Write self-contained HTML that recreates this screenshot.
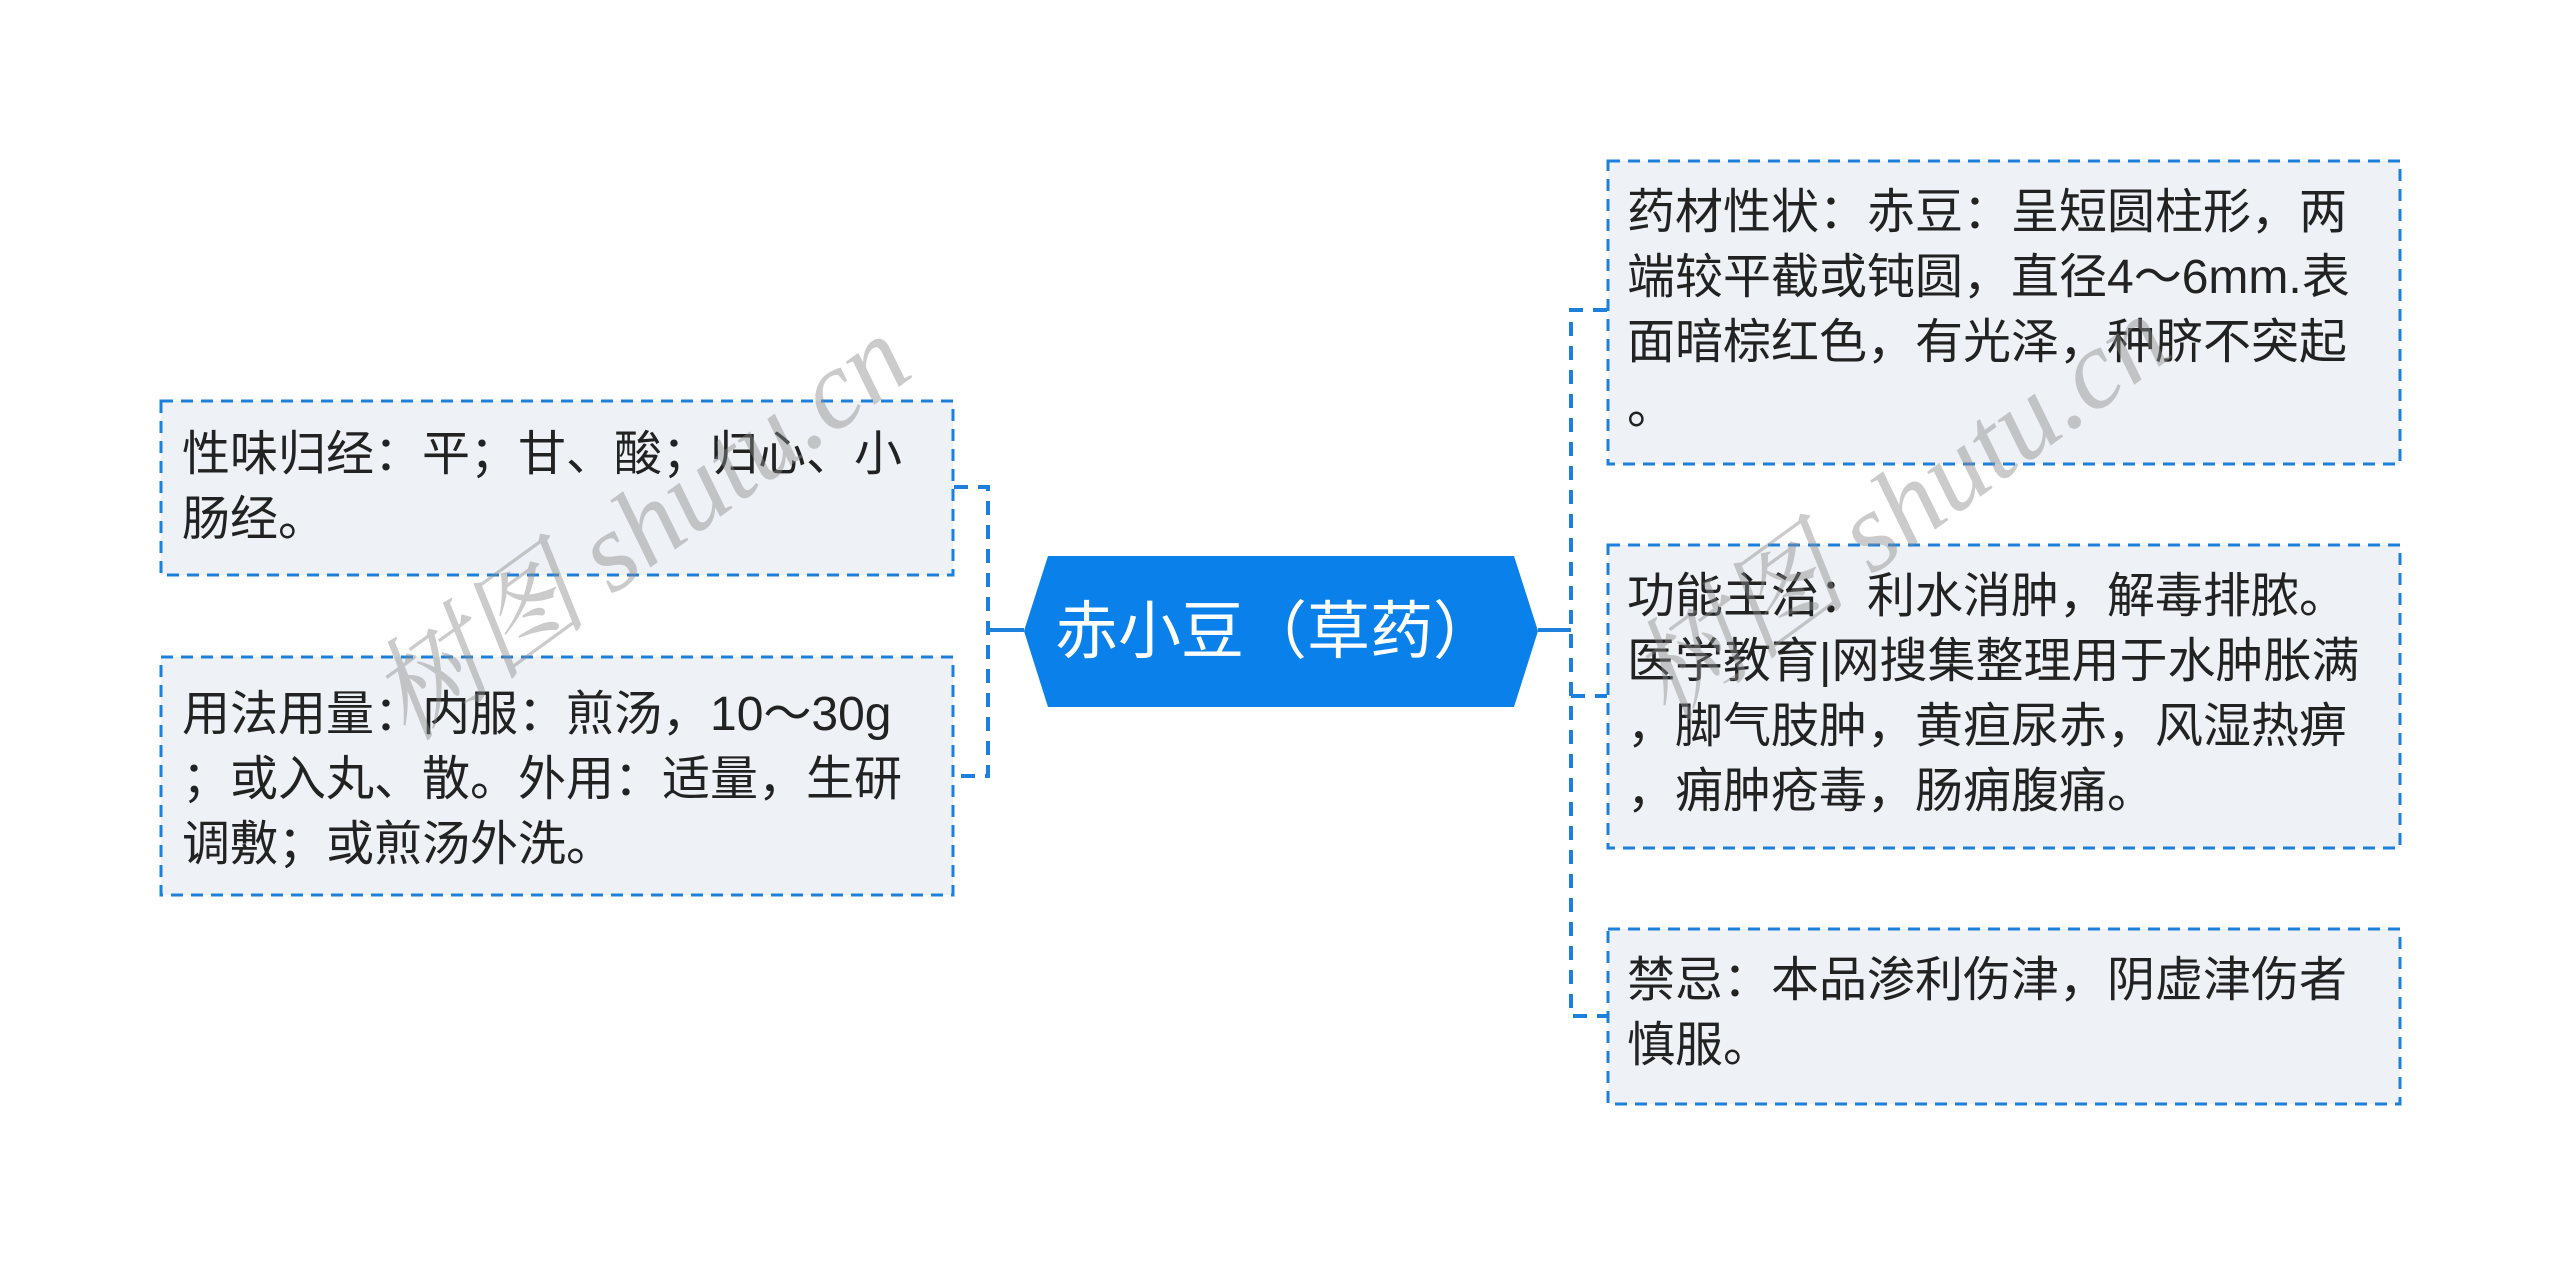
<!DOCTYPE html>
<html><head><meta charset="utf-8"><style>
body{margin:0;width:2560px;height:1264px;background:#fff;position:relative;overflow:hidden;font-family:"Liberation Sans","Noto Sans CJK SC",sans-serif}
.b{position:absolute;box-sizing:border-box;color:#222;font-size:48px;line-height:65px;padding:22px 0 0 23px;white-space:nowrap}
.wm{position:absolute;font-family:"Liberation Serif","Noto Serif CJK SC",serif;font-style:italic;font-size:112px;color:rgba(140,140,140,0.45);transform:rotate(-36deg);white-space:nowrap;transform-origin:center}
</style></head><body>
<svg width="2560" height="1264" style="position:absolute;left:0;top:0">
<g fill="#eef1f5" stroke="#1d80dc" stroke-width="3" stroke-dasharray="12,8">
<rect x="161" y="401" width="792" height="174"/>
<rect x="161" y="657" width="792" height="238"/>
<rect x="1608" y="161" width="792" height="303"/>
<rect x="1608" y="545" width="792" height="303"/>
<rect x="1608" y="929" width="792" height="175"/>
</g>
<g stroke="#1d80dc" stroke-width="4" fill="none" stroke-dasharray="14,10">
<path d="M954 487 H988 V776 H954"/>
<path d="M1607 310 H1571 V1016 H1607"/>
<path d="M1571 696 H1607"/>
</g>
<path d="M988 630 H1024 M1538 630 H1571" stroke="#1d80dc" stroke-width="4"/>
<polygon points="1024,631 1048,556 1514,556 1538,631 1514,707 1048,707" fill="#0a80ea"/>
<text x="1055" y="653" font-size="63" fill="#fff" font-family="Liberation Sans, Noto Sans CJK SC, sans-serif">赤小豆（草药）</text>
</svg>
<div class="b" style="left:160px;top:400px;padding-left:22px">性味归经：平；甘、酸；归心、小<br>肠经。</div>
<div class="b" style="left:160px;top:656px;padding-left:22px;padding-top:26px">用法用量：内服：煎汤，10～30g<br>；或入丸、散。外用：适量，生研<br>调敷；或煎汤外洗。</div>
<div class="b" style="left:1607px;top:160px;padding-left:20px;padding-top:20px">药材性状：赤豆：呈短圆柱形，两<br>端较平截或钝圆，直径4～6mm.表<br>面暗棕红色，有光泽，种脐不突起<br>。</div>
<div class="b" style="left:1607px;top:544px;padding-left:20px;padding-top:20px">功能主治：利水消肿，解毒排脓。<br>医学教育|网搜集整理用于水肿胀满<br>，脚气肢肿，黄疸尿赤，风湿热痹<br>，痈肿疮毒，肠痈腹痛。</div>
<div class="b" style="left:1607px;top:928px;padding-left:20px;padding-top:20px">禁忌：本品渗利伤津，阴虚津伤者<br>慎服。</div>
<div class="wm" style="left:320px;top:440px">树图 shutu.cn</div>
<div class="wm" style="left:1580px;top:420px">树图 shutu.cn</div>
</body></html>
